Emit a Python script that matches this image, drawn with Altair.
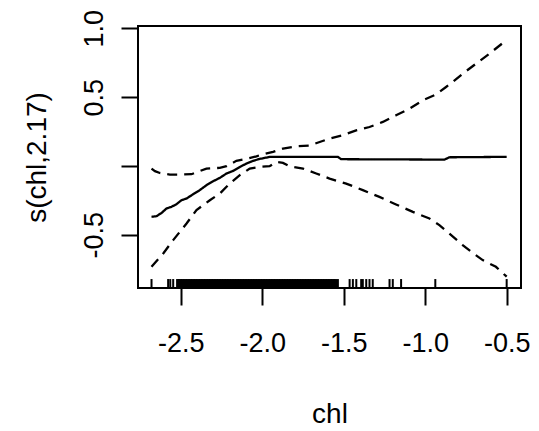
import altair as alt
import pandas as pd

# fitted smooth
fit_x = [-2.680, -2.649, -2.618, -2.588, -2.557, -2.527, -2.496, -2.465, -2.424, -2.384,
         -2.343, -2.302, -2.261, -2.220, -2.179, -2.138, -2.098, -2.057, -2.016, -1.975,
         -1.955, -1.536, -1.516, -0.882, -0.852, -0.500]
fit_y = [-0.370, -0.365, -0.341, -0.309, -0.297, -0.278, -0.249, -0.237, -0.205, -0.176,
         -0.140, -0.111, -0.087, -0.055, -0.036, -0.007, 0.017, 0.037, 0.051, 0.061,
         0.066, 0.066, 0.049, 0.046, 0.063, 0.066]

# upper band
up_x = [-2.680, -2.659, -2.629, -2.567, -2.506, -2.435, -2.404, -2.343, -2.261, -2.220,
        -2.159, -2.098, -2.036, -1.996, -1.934, -1.873, -1.791, -1.710, -1.648, -1.587,
        -1.505, -1.424, -1.342, -1.260, -1.179, -1.097, -1.015, -0.933, -0.872, -0.831,
        -0.770, -0.688, -0.607, -0.504]
up_y = [-0.019, -0.038, -0.051, -0.063, -0.063, -0.060, -0.046, -0.019, -0.014, -0.002,
        0.037, 0.051, 0.070, 0.085, 0.102, 0.126, 0.143, 0.148, 0.174, 0.199,
        0.223, 0.259, 0.283, 0.320, 0.368, 0.416, 0.477, 0.520, 0.574, 0.610,
        0.670, 0.743, 0.815, 0.912]

# lower band
lo_x = [-2.680, -2.608, -2.547, -2.465, -2.404, -2.322, -2.261, -2.200, -2.138, -2.077,
        -2.016, -1.955, -1.914, -1.873, -1.832, -1.750, -1.669, -1.587, -1.485, -1.383,
        -1.281, -1.179, -1.076, -0.974, -0.913, -0.852, -0.770, -0.709, -0.647, -0.566,
        -0.500]
lo_y = [-0.733, -0.636, -0.539, -0.418, -0.321, -0.249, -0.201, -0.128, -0.067, -0.019,
        -0.007, -0.002, 0.029, 0.022, -0.002, -0.019, -0.055, -0.092, -0.128, -0.176,
        -0.225, -0.280, -0.334, -0.382, -0.430, -0.491, -0.575, -0.631, -0.684, -0.733,
        -0.805]

# rug of observed chl values: densely packed part and isolated values
rug_dense = [-2.52, -2.51, -2.50, -2.49, -2.48, -2.47, -2.46, -2.45, -2.44, -2.43,
             -2.42, -2.41, -2.40, -2.39, -2.38, -2.37, -2.36, -2.35, -2.34, -2.33,
             -2.32, -2.31, -2.30, -2.29, -2.28, -2.27, -2.26, -2.25, -2.24, -2.23,
             -2.22, -2.21, -2.20, -2.19, -2.18, -2.17, -2.16, -2.15, -2.14, -2.13,
             -2.12, -2.11, -2.10, -2.09, -2.08, -2.07, -2.06, -2.05, -2.04, -2.03,
             -2.02, -2.01, -2.00, -1.99, -1.98, -1.97, -1.96, -1.95, -1.94, -1.93,
             -1.92, -1.91, -1.90, -1.89, -1.88, -1.87, -1.86, -1.85, -1.84, -1.83,
             -1.82, -1.81, -1.80, -1.79, -1.78, -1.77, -1.76, -1.75, -1.74, -1.73,
             -1.72, -1.71, -1.70, -1.69, -1.68, -1.67, -1.66, -1.65, -1.64, -1.63,
             -1.62, -1.61, -1.60, -1.59, -1.58, -1.57, -1.56, -1.55]
rug_sparse = [-2.68, -2.578, -2.565, -2.547,
              -1.536, -1.464, -1.444, -1.423, -1.393, -1.383, -1.362, -1.342, -1.322,
              -1.219, -1.199, -1.148, -0.938, -0.5]

x_ticks = [-2.5, -2.0, -1.5, -1.0, -0.5]
y_ticks = [-0.5, 0.0, 0.5, 1.0]
x_domain = [-2.763, -0.412]
y_domain = [-0.887, 1.017]
rug_top = -0.822

FONT = "Liberation Sans"

rows = []
for name, xs, ys in [("fit", fit_x, fit_y), ("upper", up_x, up_y), ("lower", lo_x, lo_y)]:
    for i, (a, b) in enumerate(zip(xs, ys)):
        rows.append({"series": name, "x": a, "y": b, "order": i})
df = pd.DataFrame(rows)
rug_d = pd.DataFrame({"x": rug_dense})
rug_s = pd.DataFrame({"x": rug_sparse})

xscale = alt.Scale(domain=x_domain, nice=False, zero=False)
yscale = alt.Scale(domain=y_domain, nice=False, zero=False)

xaxis = alt.Axis(values=x_ticks, title="chl", domain=False, grid=False,
                 tickSize=17, tickWidth=2, tickColor="black",
                 labelFont=FONT, labelFontSize=27, labelColor="black", labelPadding=25,
                 labelExpr="datum.value < 0 ? '-' + format(-datum.value, '.1f') : format(datum.value, '.1f')",
                 titleFont=FONT, titleFontSize=28, titleFontWeight="normal", titleColor="black",
                 titleBaseline="alphabetic", titleY=134)
yaxis = alt.Axis(values=y_ticks, title="s(chl,2.17)", domain=False, grid=False,
                 tickSize=17, tickWidth=2, tickColor="black",
                 labelFont=FONT, labelFontSize=27, labelColor="black", labelPadding=19,
                 labelAngle=270, labelAlign="center", labelBaseline="alphabetic",
                 labelExpr="datum.value == 0 ? '' : (datum.value < 0 ? '-' + format(-datum.value, '.1f') : format(datum.value, '.1f'))",
                 titleFont=FONT, titleFontSize=28, titleFontWeight="normal", titleColor="black",
                 titleAngle=270, titleBaseline="alphabetic", titleAlign="center",
                 titleX=-93, titleY=131)

lines = alt.Chart(df).mark_line(color="black", strokeWidth=2.3).encode(
    x=alt.X("x:Q", scale=xscale, axis=xaxis),
    y=alt.Y("y:Q", scale=yscale, axis=yaxis),
    detail="series:N",
    order="order:Q",
    strokeDash=alt.StrokeDash("series:N", scale=alt.Scale(
        domain=["fit", "upper", "lower"], range=[[1, 0], [10, 7], [10, 7]]), legend=None),
)

rug_dense_layer = alt.Chart(rug_d).mark_rule(color="black", strokeWidth=3).encode(
    x=alt.X("x:Q", scale=xscale),
    y=alt.datum(y_domain[0]),
    y2=alt.datum(rug_top),
)
rug_sparse_layer = alt.Chart(rug_s).mark_rule(color="black", strokeWidth=2).encode(
    x=alt.X("x:Q", scale=xscale),
    y=alt.datum(y_domain[0]),
    y2=alt.datum(rug_top),
)

chart = alt.layer(lines, rug_dense_layer, rug_sparse_layer).properties(
    width=383, height=262,
    padding={"left": 130, "top": 18, "right": 10, "bottom": 141},
    autosize="none",
).configure_view(stroke="black", strokeWidth=2)

chart.save("out.html", embed_options={"renderer": "svg", "actions": False})
